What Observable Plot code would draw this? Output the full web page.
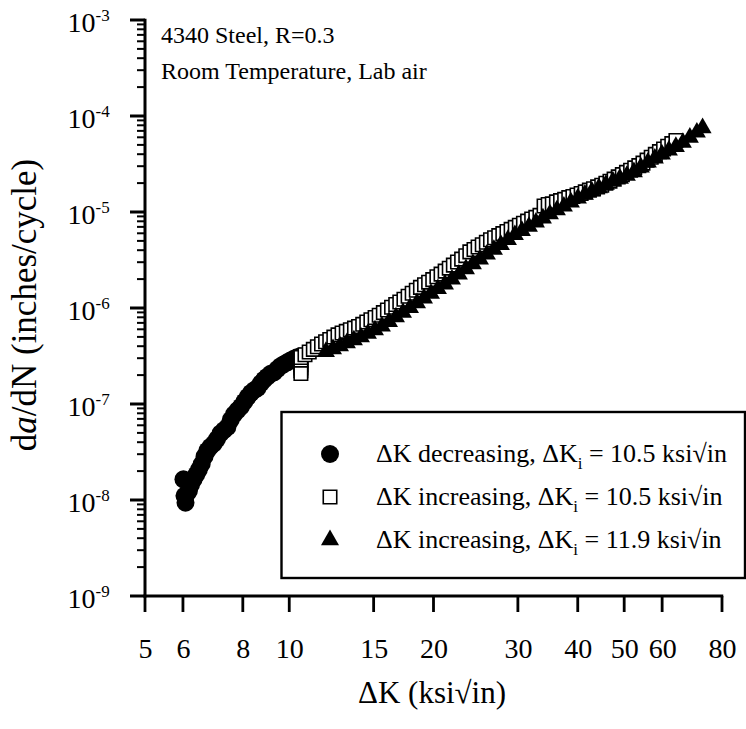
<!DOCTYPE html>
<html><head><meta charset="utf-8">
<script src="https://cdn.jsdelivr.net/npm/d3@7"></script>
<script src="https://cdn.jsdelivr.net/npm/@observablehq/plot@0.6"></script>
<style>body{margin:0;background:#fff} svg{display:block}</style>
</head><body><div id="chart"></div>
<script>
// ΔK decreasing, ΔKi = 10.5 (circles)
const decK = [6.00, 6.06, 6.03, 6.10, 6.16, 6.22, 6.30, 6.38, 6.46, 6.55, 6.64, 6.73, 6.83, 6.94, 7.05, 7.17, 7.29, 7.41, 7.53, 7.65, 7.78, 7.91, 8.04, 8.17, 8.30, 8.43, 8.56, 8.70, 8.84, 8.98, 9.12, 9.27, 9.42, 9.57, 9.72, 9.88, 10.04, 10.20, 10.35, 10.50];
const decRate = [1.66e-8, 9.5e-9, 1.12e-8, 1.17e-8, 1.26e-8, 1.45e-8, 1.66e-8, 1.86e-8, 2.09e-8, 2.4e-8, 2.88e-8, 3.3e-8, 3.63e-8, 3.9e-8, 4.37e-8, 5.0e-8, 5.4e-8, 5.8e-8, 6.9e-8, 7.9e-8, 8.7e-8, 9.5e-8, 1.07e-7, 1.2e-7, 1.32e-7, 1.41e-7, 1.48e-7, 1.66e-7, 1.82e-7, 1.95e-7, 2.09e-7, 2.16e-7, 2.34e-7, 2.51e-7, 2.63e-7, 2.75e-7, 2.88e-7, 3.0e-7, 3.1e-7, 3.16e-7];

// ΔK increasing, ΔKi = 10.5 (open squares)
const incAK = [10.55, 10.55, 10.55, 10.55, 10.55,
 10.55, 10.76, 10.98, 11.20, 11.42, 11.65, 11.88, 12.12, 12.36, 12.61,
 12.86, 13.12, 13.38, 13.65, 13.92, 14.20, 14.48, 14.77, 15.07, 15.37,
 15.68, 15.99, 16.31, 16.64, 16.97, 17.31, 17.66, 18.01, 18.37, 18.74,
 19.11, 19.49, 19.88, 20.28, 20.69, 21.10, 21.52, 21.95, 22.39, 22.84,
 23.30, 23.76, 24.24, 24.72, 25.22, 25.72, 26.24, 26.76, 27.30, 27.84,
 28.40, 28.97, 29.55, 30.14, 30.74, 31.36, 31.98, 32.62, 33.28, 33.94,
 34.62, 35.31, 36.02, 36.74, 37.47, 38.22, 38.99, 39.77, 40.56, 41.37,
 42.20, 43.04, 43.90, 44.78, 45.68, 46.59, 47.52, 48.47, 49.44, 50.43,
 51.44, 52.47, 53.52, 54.59, 55.68, 56.80, 57.93, 59.09, 60.27, 61.48,
 62.71, 63.96];
const incARate = [2.85e-7, 2.6e-7, 2.4e-7, 2.25e-7, 2.1e-7,
 3.09e-7, 3.30e-7, 3.52e-7, 3.75e-7, 4.00e-7, 4.27e-7, 4.51e-7, 4.76e-7, 5.04e-7, 5.31e-7,
 5.56e-7, 5.78e-7, 6.01e-7, 6.25e-7, 6.50e-7, 6.84e-7, 7.23e-7, 7.64e-7, 8.07e-7, 8.51e-7,
 9.06e-7, 9.66e-7, 1.03e-6, 1.10e-6, 1.17e-6, 1.25e-6, 1.34e-6, 1.44e-6, 1.55e-6, 1.66e-6,
 1.77e-6, 1.88e-6, 2.00e-6, 2.14e-6, 2.28e-6, 2.45e-6, 2.63e-6, 2.83e-6, 3.05e-6, 3.27e-6,
 3.55e-6, 3.89e-6, 4.12e-6, 4.37e-6, 4.62e-6, 4.90e-6, 5.20e-6, 5.46e-6, 5.74e-6, 6.03e-6,
 6.34e-6, 6.67e-6, 7.00e-6, 7.36e-6, 7.73e-6, 8.13e-6, 8.55e-6, 8.91e-6, 9.33e-6, 1.17e-5,
 1.21e-5, 1.23e-5, 1.29e-5, 1.33e-5, 1.37e-5, 1.43e-5, 1.47e-5, 1.52e-5, 1.58e-5, 1.64e-5,
 1.71e-5, 1.77e-5, 1.85e-5, 1.92e-5, 2.02e-5, 2.12e-5, 2.23e-5, 2.35e-5, 2.48e-5, 2.62e-5,
 2.76e-5, 2.92e-5, 3.08e-5, 3.27e-5, 3.51e-5, 3.76e-5, 4.03e-5, 4.31e-5, 4.59e-5, 4.90e-5,
 5.22e-5, 5.62e-5];

// ΔK increasing, ΔKi = 11.9 (filled triangles)
const incBK = [11.90, 12.31, 12.73, 13.16, 13.61, 14.08, 14.56, 15.06, 15.57, 16.11,
 16.66, 17.23, 17.82, 18.43, 19.06, 19.71, 20.38, 21.08, 21.80, 22.54,
 23.32, 24.11, 24.94, 25.79, 26.67, 27.58, 28.53, 29.50, 30.51, 31.56,
 32.64, 33.75, 34.91, 36.10, 37.33, 38.61, 39.93, 41.30, 42.71, 44.17,
 45.68, 47.24, 48.86, 50.53, 52.26, 54.04, 55.89, 57.80, 59.78, 61.83,
 63.94, 66.13, 68.39, 70.73, 72.70];
const incBRate = [3.55e-7, 3.79e-7, 4.06e-7, 4.37e-7, 4.69e-7, 5.04e-7, 5.48e-7, 5.96e-7, 6.52e-7, 7.28e-7,
 8.13e-7, 9.06e-7, 1.02e-6, 1.14e-6, 1.28e-6, 1.43e-6, 1.60e-6, 1.79e-6, 2.01e-6, 2.27e-6,
 2.58e-6, 2.91e-6, 3.26e-6, 3.66e-6, 4.11e-6, 4.62e-6, 5.20e-6, 5.85e-6, 6.46e-6, 7.13e-6,
 7.89e-6, 8.71e-6, 9.62e-6, 1.06e-5, 1.16e-5, 1.28e-5, 1.41e-5, 1.54e-5, 1.66e-5, 1.80e-5,
 1.95e-5, 2.12e-5, 2.26e-5, 2.42e-5, 2.64e-5, 2.96e-5, 3.33e-5, 3.66e-5, 4.04e-5, 4.44e-5,
 4.85e-5, 5.35e-5, 6.04e-5, 6.84e-5, 7.59e-5];

const xTicks = [5, 6, 8, 10, 15, 20, 30, 40, 50, 60, 80];
const yMajor = [1e-9, 1e-8, 1e-7, 1e-6, 1e-5, 1e-4, 1e-3];
const seriesNames = ["ΔK decreasing", "ΔK increasing", "ΔK increasing"];
const seriesDKi = ["10.5", "10.5", "11.9"];
const notes = ["4340 Steel, R=0.3", "Room Temperature, Lab air"];

const yMinor = [];
for (let e = -9; e < -3; e++) for (let m = 2; m <= 9; m++) yMinor.push(m * Math.pow(10, e));

const toRows = (ks, rs) => ks.map((k, i) => ({K: k, rate: rs[i]}));
const dec = toRows(decK, decRate), incA = toRows(incAK, incARate), incB = toRows(incBK, incBRate);

const FONT = "'Liberation Serif', 'Times New Roman', serif";
const W = 746, H = 729, ML = 145, MR = 24, MT = 20, MB = 133;

const svg = Plot.plot({
  width: W, height: H,
  marginLeft: ML, marginRight: MR, marginTop: MT, marginBottom: MB,
  style: {fontFamily: FONT, background: "white", color: "black", overflow: "visible"},
  x: {type: "log", domain: [5, 80], axis: null},
  y: {type: "log", domain: [1e-9, 1e-3], axis: null},
  marks: [
    Plot.text(yMajor, {y: d => d, frameAnchor: "left", dx: -50, dy: 3, textAnchor: "end", fontSize: 28,
      fill: "black", text: () => "10"}),
    Plot.text(yMajor, {y: d => d, frameAnchor: "left", dx: -50, dy: -5, textAnchor: "start", fontSize: 17,
      fill: "black", text: d => String(Math.round(Math.log10(d)))}),
    Plot.text(xTicks, {x: d => d, frameAnchor: "bottom", dy: 42, lineAnchor: "top", fontSize: 28,
      fill: "black", text: d => String(d)}),
    Plot.dot(dec, {x: "K", y: "rate", r: 9, fill: "black", stroke: null}),
    Plot.dot(incA, {x: "K", y: "rate", symbol: "square", r: 7.6, fill: "white", stroke: "black", strokeWidth: 1.6}),
    Plot.dot(incB, {x: "K", y: "rate", symbol: "triangle", r: 6.7, fill: "black", stroke: null})
  ]
});
document.getElementById("chart").appendChild(svg);

const s = d3.select(svg);
const sx = v => svg.scale("x").apply(v);
const sy = v => svg.scale("y").apply(v);
const x0 = sx(5), x1 = sx(80), y0 = sy(1e-9), y1 = sy(1e-3);

// axes + ticks placed with Plot's scales
const ax = s.append("g").attr("fill", "black").attr("stroke", "none");
const bar = (x, y, w, h) => ax.append("rect").attr("x", x).attr("y", y).attr("width", w).attr("height", h);
bar(x0 - 1.5, y1 - 1.25, 3, y0 - y1 + 2.75);
bar(x0 - 1.5, y0 - 1.5, x1 - x0 + 2.75, 3);
yMinor.forEach(v => bar(x0 - 8, sy(v) - 1, 8, 2));
yMajor.forEach(v => bar(x0 - 15, sy(v) - 1.5, 15, 3));
xTicks.forEach(v => bar(sx(v) - 1.4, y0, 2.8, 16));

// annotations
notes.forEach((n, i) => {
  s.append("text").attr("x", 161).attr("y", 43 + i * 36).attr("text-anchor", "start")
    .attr("font-family", FONT).attr("font-size", 24).attr("fill", "black").text(n);
});

// axis titles
s.append("text").attr("x", 432).attr("y", 703).attr("text-anchor", "middle")
  .attr("font-family", FONT).attr("font-size", 31).attr("fill", "black").text("ΔK (ksi√in)");
const yt = s.append("text").attr("transform", "translate(36,305) rotate(-90)")
  .attr("text-anchor", "middle").attr("font-family", FONT).attr("font-size", 35).attr("fill", "black");
yt.append("tspan").text("d");
yt.append("tspan").attr("font-style", "italic").text("a");
yt.append("tspan").text("/dN (inches/cycle)");

// legend
const lg = s.append("g");
lg.append("rect").attr("x", 281.5).attr("y", 412).attr("width", 463.5).attr("height", 166)
  .attr("fill", "white").attr("stroke", "black").attr("stroke-width", 2.4);
const legSyms = [
  {type: d3.symbolCircle, size: Math.PI * 81, fill: "black", stroke: "none"},
  {type: d3.symbolSquare, size: Math.PI * 7.6 * 7.6, fill: "white", stroke: "black"},
  {type: d3.symbolTriangle, size: Math.PI * 6.7 * 6.7, fill: "black", stroke: "none"}
];
seriesNames.forEach((name, i) => {
  const cy = 454 + i * 43;
  const sym = legSyms[i];
  lg.append("path").attr("transform", `translate(330,${cy})`)
    .attr("d", d3.symbol(sym.type, sym.size)()).attr("fill", sym.fill).attr("stroke", sym.stroke).attr("stroke-width", 1.6);
  const tx = lg.append("text").attr("x", 376).attr("y", cy + 8).attr("text-anchor", "start")
    .attr("font-family", FONT).attr("font-size", 26).attr("fill", "black");
  tx.append("tspan").text(name + ", ΔK");
  tx.append("tspan").attr("font-size", 17).attr("dy", 7).text("i");
  tx.append("tspan").attr("dy", -7).text(" = " + seriesDKi[i] + " ksi√in");
});
</script>
</body></html>
